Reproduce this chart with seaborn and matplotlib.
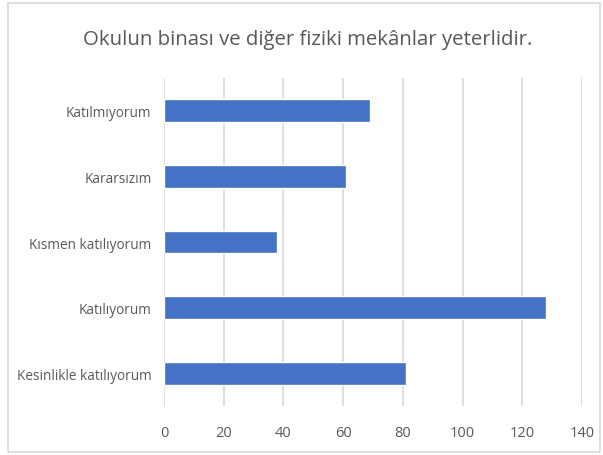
import matplotlib
matplotlib.use("Agg")
import matplotlib.pyplot as plt
import seaborn as sns
import pandas as pd
from matplotlib.patches import Rectangle

categories = ["Katılmıyorum", "Kararsızım", "Kısmen katılıyorum", "Katılıyorum", "Kesinlikle katılıyorum"]
values = [69, 61, 38, 128, 81]
xticks = [0, 20, 40, 60, 80, 100, 120, 140]
title = "Okulun binası ve diğer fiziki mekânlar yeterlidir."

sns.set_style("white")
plt.rcParams["font.family"] = ["Open Sans", "DejaVu Sans"]

df = pd.DataFrame({"cat": categories, "val": values})

fig = plt.figure(figsize=(6.03, 4.56), dpi=100)
ax = fig.add_axes([164/603, 1-407/456, (582-164)/603, (407-79)/456])

sns.barplot(data=df, x="val", y="cat", orient="h", color="#4472C4", saturation=1,
            width=0.35, ax=ax, order=categories, zorder=3)

ax.set_xlim(0, 140)
ax.set_xticks(xticks)
ax.set_xticklabels([str(t) for t in xticks])
ax.set_ylim(4.5, -0.5)
ax.grid(axis="x", color="#d9d9d9", linewidth=1.2, zorder=0)
ax.grid(axis="y", visible=False)
ax.set_axisbelow(True)
for s in ax.spines.values():
    s.set_visible(False)
ax.set_xlabel("")
ax.set_ylabel("")
ax.tick_params(axis="x", colors="#595959", labelsize=10.5, length=0, pad=14)
ax.tick_params(axis="y", colors="#595959", labelsize=9.8, length=0, pad=9)

fig.text(308/603, 1-40/456, title, ha="center", va="center", fontsize=14.7, color="#595959")

fig.patches.append(Rectangle((8/603, 3/456), 592/603, 449/456, transform=fig.transFigure,
                             fill=False, edgecolor="#d9d9d9", linewidth=1.2))

fig.savefig("out.png", dpi=100)
